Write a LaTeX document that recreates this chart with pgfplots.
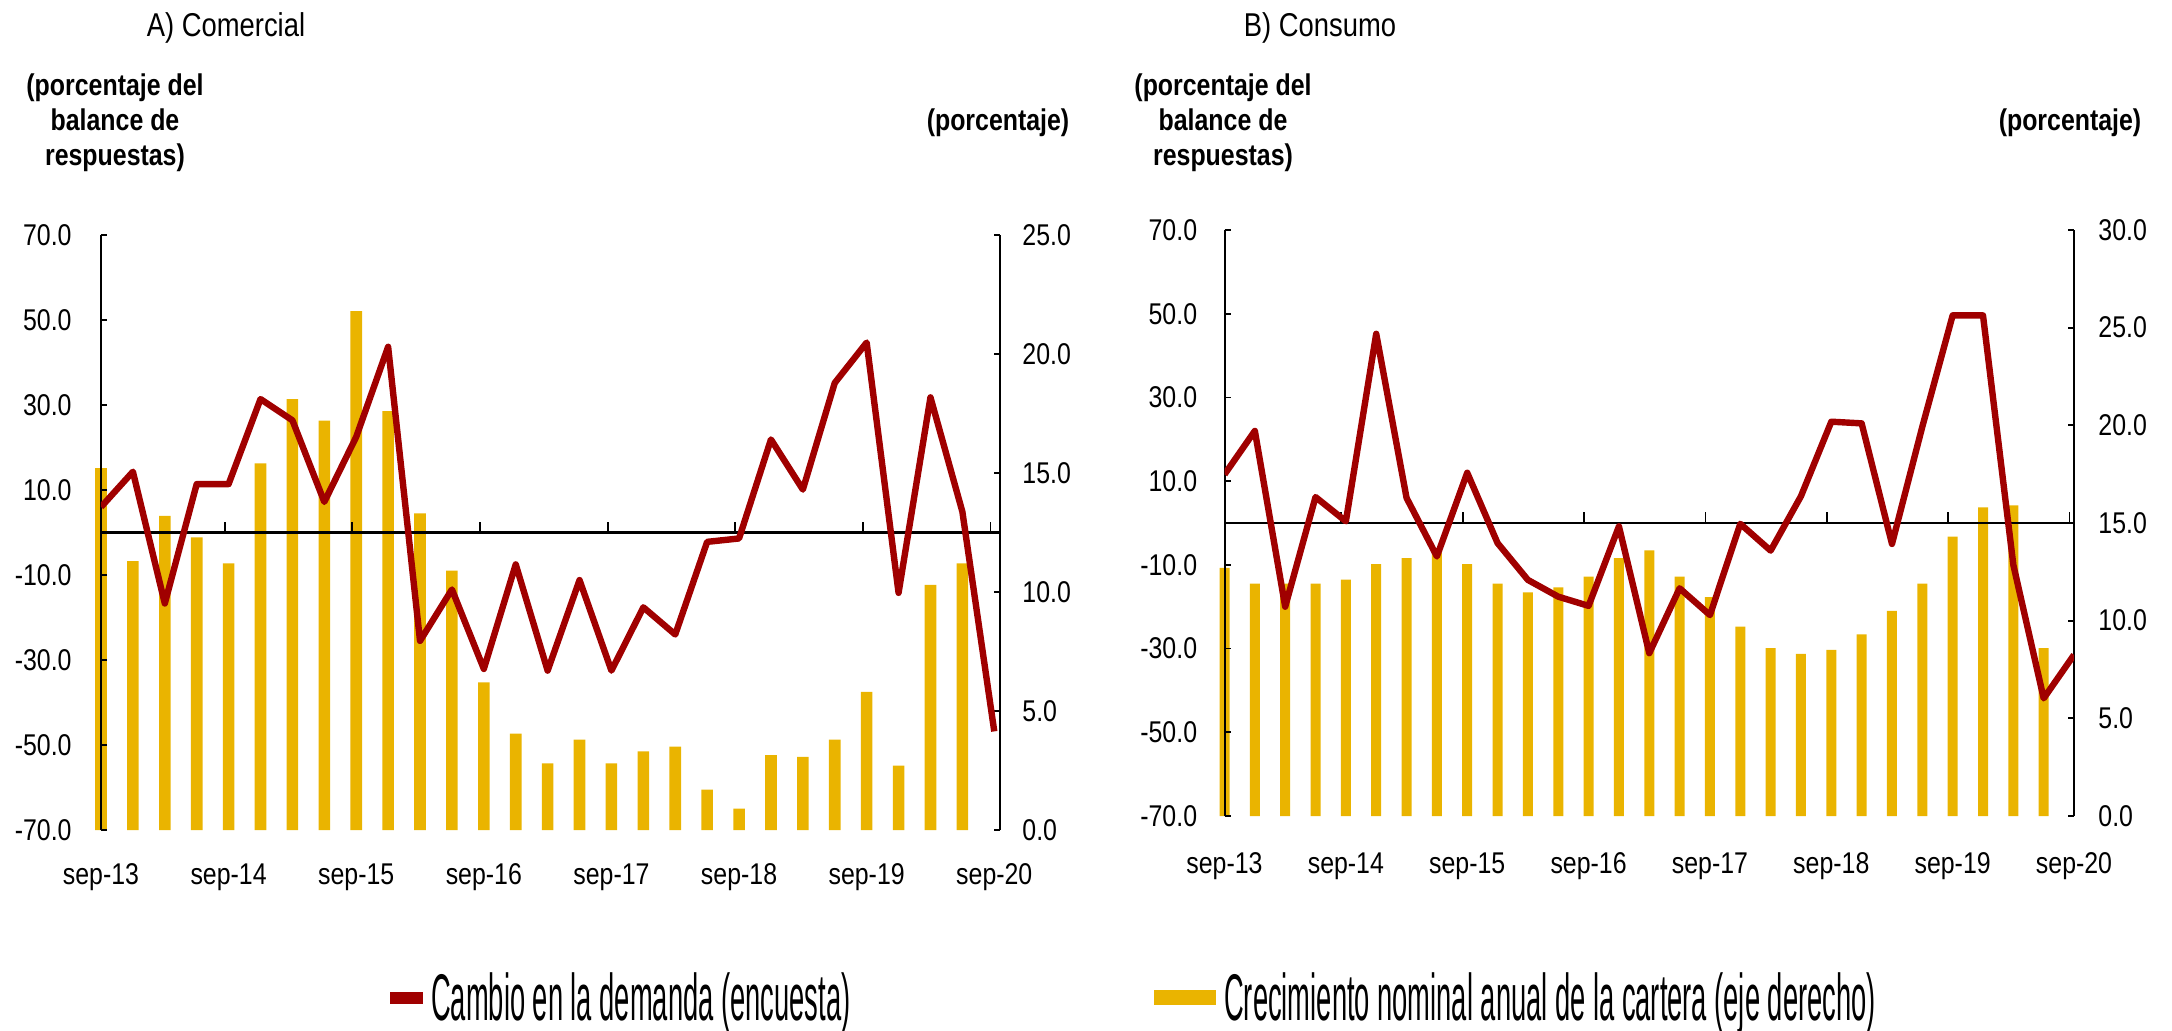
\documentclass[border=0pt]{standalone}
\usepackage{fontspec}
\setmainfont{Liberation Sans}[FakeStretch=0.83]
\newfontfamily\legfont{Liberation Sans}[FakeStretch=0.414]
\usepackage{pgfplots}
\pgfplotsset{compat=1.18}
\definecolor{cred}{RGB}{160,0,0}
\definecolor{cyel}{RGB}{234,180,0}

\pgfplotsset{
  base/.style={scale only axis, /pgf/number format/assume math mode=true,
    tick align=inside, major tick length=3pt,
    every tick/.style={black, line width=0.9pt},
    axis line style={line width=1pt},
    tick label style={font=\fontsize{15}{18}\selectfont},
    yticklabel={\pgfmathprintnumber[fixed,fixed zerofill,precision=1]{\tick}},
  },
  panelA/.style={base, at={(50.5pt,-415pt)}, anchor=south west, width=449.5pt, height=297.5pt, xmin=0, xmax=28.18},
  panelB/.style={base, at={(612.25pt,-408pt)}, anchor=south west, width=424.75pt, height=293pt, xmin=0, xmax=28},
}

\begin{document}
\begin{tikzpicture}
\useasboundingbox (0,0) rectangle (1086pt,-515.5pt);

% ---------------- Panel A ----------------
\begin{axis}[panelA, ymin=0, ymax=25, axis x line=none, axis y line*=right,
  ytick={0,5,...,25}, yticklabel style={anchor=west, inner sep=0pt, xshift=11pt}, clip=false]
\addplot[ybar, bar width=5.8pt, fill=cyel, draw=none] coordinates {
(0,15.2) (1,11.3) (2,13.2) (3,12.3) (4,11.2) (5,15.4) (6,18.1) (7,17.2) (8,21.8) (9,17.6)
(10,13.3) (11,10.9) (12,6.2) (13,4.05) (14,2.8) (15,3.8) (16,2.8) (17,3.3) (18,3.5) (19,1.7)
(20,0.9) (21,3.15) (22,3.07) (23,3.8) (24,5.8) (25,2.7) (26,10.3) (27,11.2)};
\end{axis}

\begin{axis}[panelA, ymin=-70, ymax=70, axis y line=none, axis x line*=middle,
  xtick={3.88,7.88,...,27.88}, xticklabels={}, major tick length=5.5pt,
  x axis line style={line width=1.3pt}]
\addplot[draw=none] coordinates {(0,0)};
\end{axis}

\begin{axis}[panelA, ymin=-70, ymax=70, axis y line*=left, axis x line*=bottom,
  x axis line style={draw=none},
  xtick={0,4,...,28}, xticklabels={sep-13,sep-14,sep-15,sep-16,sep-17,sep-18,sep-19,sep-20},
  xtick style={draw=none}, xticklabel style={anchor=base, inner sep=0pt, yshift=-27pt},
  ytick={-70,-50,...,70}, yticklabel style={anchor=east, inner sep=0pt, xshift=-14.5pt},
  legend columns=2, legend cell align=left,
  legend style={draw=none, fill=none, inner sep=0pt, at={(axis description cs:0.3215,-0.282)}, anchor=west,
    font=\legfont\fontsize{33}{38}\selectfont, nodes={inner sep=0pt},
    /tikz/every even column/.append style={column sep=152pt},
    /tikz/every odd column/.append style={column sep=4pt}}]
\addplot[cred, line width=3.2pt, line join=round, forget plot] coordinates {
(0,6.0) (1,14.3) (2,-16.7) (3,11.4) (4,11.4) (5,31.4) (6,26.4) (7,7.2) (8,22.5) (9,43.7)
(10,-25.5) (11,-13.4) (12,-32.1) (13,-7.5) (14,-32.5) (15,-11.2) (16,-32.5) (17,-17.6) (18,-24.0) (19,-2.2)
(20,-1.4) (21,21.9) (22,10.1) (23,35.2) (24,44.7) (25,-14.2) (26,31.8) (27,4.9) (28,-46.8)};
\addlegendimage{legend image code/.code={\fill[cred] (0pt,-2.75pt) rectangle (16pt,2.75pt);}}
\addlegendentry{Cambio en la demanda (encuesta)}
\addlegendimage{legend image code/.code={\fill[cyel] (0pt,-3.5pt) rectangle (30.5pt,3.5pt);}}
\addlegendentry{Crecimiento nominal anual de la cartera (eje derecho)}
\end{axis}

% ---------------- Panel B ----------------
\begin{axis}[panelB, ymin=0, ymax=30, axis x line=none, axis y line*=right,
  ytick={0,5,...,30}, yticklabel style={anchor=west, inner sep=0pt, xshift=12pt}, clip=false]
\addplot[ybar, bar width=5pt, fill=cyel, draw=none] coordinates {
(0,12.7) (1,11.9) (2,11.9) (3,11.9) (4,12.1) (5,12.9) (6,13.2) (7,13.5) (8,12.9) (9,11.9)
(10,11.45) (11,11.7) (12,12.25) (13,13.2) (14,13.6) (15,12.25) (16,11.2) (17,9.7) (18,8.6) (19,8.3)
(20,8.5) (21,9.3) (22,10.5) (23,11.9) (24,14.3) (25,15.8) (26,15.9) (27,8.6)};
\end{axis}

\begin{axis}[panelB, ymin=-70, ymax=70, axis y line=none, axis x line*=middle,
  xtick={3.85,7.85,...,27.85}, xticklabels={}, major tick length=5.5pt,
  x axis line style={line width=1.3pt}]
\addplot[draw=none] coordinates {(0,0)};
\end{axis}

\begin{axis}[panelB, ymin=-70, ymax=70, axis y line*=left, axis x line*=bottom,
  x axis line style={draw=none},
  xtick={0,4,...,28}, xticklabels={sep-13,sep-14,sep-15,sep-16,sep-17,sep-18,sep-19,sep-20},
  xtick style={draw=none}, xticklabel style={anchor=base, inner sep=0pt, yshift=-28.5pt},
  ytick={-70,-50,...,70}, yticklabel style={anchor=east, inner sep=0pt, xshift=-13.5pt}]
\addplot[cred, line width=3.2pt, line join=round] coordinates {
(0,11.6) (1,22.0) (2,-20.0) (3,6.2) (4,0.4) (5,45.2) (6,6.0) (7,-8.0) (8,12.0) (9,-4.8)
(10,-13.6) (11,-17.6) (12,-19.8) (13,-0.8) (14,-31.1) (15,-15.6) (16,-22.0) (17,-0.2) (18,-6.6) (19,6.4)
(20,24.2) (21,23.8) (22,-5.0) (23,23.0) (24,49.6) (25,49.6) (26,-10.0) (27,-41.9) (28,-31.5)};
\end{axis}

% ---------------- Titles and axis notes ----------------
\node[anchor=base, font=\fontsize{16.5}{20}\selectfont] at (113pt,-18.5pt) {A) Comercial};
\node[anchor=base, font=\fontsize{16.5}{20}\selectfont] at (660pt,-18.5pt) {B) Consumo};
\begin{scope}[every node/.style={anchor=base, font=\bfseries\fontsize{15}{18}\selectfont}]
\node at (57.5pt,-48pt) {(porcentaje del};
\node at (57.5pt,-65.5pt) {balance de};
\node at (57.5pt,-83pt) {respuestas)};
\node at (499pt,-65.5pt) {(porcentaje)};
\node at (611.5pt,-48pt) {(porcentaje del};
\node at (611.5pt,-65.5pt) {balance de};
\node at (611.5pt,-83pt) {respuestas)};
\node at (1035pt,-65.5pt) {(porcentaje)};
\end{scope}
\end{tikzpicture}
\end{document}
